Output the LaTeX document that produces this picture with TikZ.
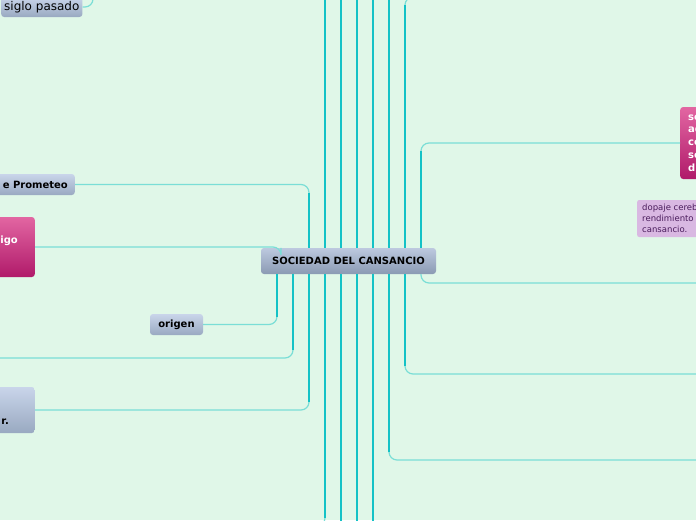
\documentclass[tikz,border=0pt]{standalone}
\usepackage{fontspec}
\setmainfont{DejaVu Sans}
\definecolor{cFondo}{HTML}{E0F7E8}
\definecolor{cTronco}{HTML}{14C2C6}
\definecolor{cRama}{HTML}{7ADED6}
\definecolor{cAzulA}{HTML}{C9D5EA}
\definecolor{cAzulB}{HTML}{99A9C1}
\definecolor{cCentroA}{HTML}{BDC9DF}
\definecolor{cCentroB}{HTML}{8A9AB3}
\definecolor{cRosaA}{HTML}{E266A2}
\definecolor{cRosaB}{HTML}{B01A6A}
\definecolor{cLila}{HTML}{D9B8E2}
\definecolor{cLilaTexto}{HTML}{4A1C5C}

\begin{document}
\begin{tikzpicture}[x=1pt, y=-1pt,
        tema/.style={rounded corners=3pt, top color=cAzulA, bottom color=cAzulB, inner ysep=0pt,
            font=\fontsize{10}{12}\selectfont\bfseries},
        central/.style={rounded corners=3pt, top color=cCentroA, bottom color=cCentroB, inner sep=0pt,
            minimum width=175pt, minimum height=26pt, font=\fontsize{10}{12}\selectfont\bfseries},
        rosa/.style={rounded corners=3pt, top color=cRosaA, bottom color=cRosaB, text=white, inner ysep=0pt,
            font=\fontsize{10}{12.8}\selectfont\bfseries},
        nota/.style={rounded corners=2pt, fill=cLila, text=cLilaTexto, inner ysep=0pt,
            font=\fontsize{8.5}{11}\selectfont},
        rama/.style={draw=cRama, line width=1.2pt, rounded corners=8pt},
        tronco/.style={draw=cTronco, line width=2pt}
    ]
        % Lienzo
        \useasboundingbox (0,0) rectangle (696,520);
        \clip (0,0) rectangle (696,520);
        \fill[cFondo] (0,0) rectangle (696,520);

        % Nodo central y temas
        \node[central] (cc) at (348.5,261) {SOCIEDAD DEL CANSANCIO};
        \node[tema, anchor=west, minimum height=20pt, inner xsep=3pt,
            font=\fontsize{12}{14}\selectfont] (sp) at (1,7) {siglo pasado};
        \node[tema, anchor=east, minimum height=21pt, inner xsep=7pt] (pr) at (75,184.5) {e Prometeo};
        \node[rosa, anchor=east, minimum height=60pt, inner xsep=17pt,
            text height=7.5pt, text depth=2pt] (igo) at (35,247) {\raisebox{6pt}{igo}};
        \node[tema, minimum width=53pt, minimum height=21pt] (og) at (176.5,324.5) {origen};
        \node[tema, anchor=east, minimum height=46pt, inner xsep=26pt,
            text height=7.5pt, text depth=2pt] (rr) at (35,410) {\raisebox{-12pt}{r.}};
        \node[rosa, anchor=west, align=left, minimum height=72pt, inner xsep=8pt] (sed) at (680,143)
            {se\\ad\\co\\se\\d};
        \node[nota, anchor=west, align=left, minimum height=37pt, inner xsep=5pt] (dop) at (637,218.5)
            {dopaje cereb\\rendimiento\\cansancio.};

        % Posiciones de las ramas y extremos fuera del lienzo
        \foreach \x in {93,277,281,293,309,325,341,357,373,389,405,421}
            \coordinate (x\x) at (\x,0);
        \coordinate (arriba) at (0,-20);
        \coordinate (abajo) at (0,540);
        \coordinate (izq) at (-20,358);
        \coordinate (izqAbajo) at (200,526);
        \coordinate (derArriba) at (720,-3);
        \coordinate (der283) at (720,283);
        \coordinate (der374) at (720,374);
        \coordinate (der460) at (720,460);

        % Ramas finas
        \draw[rama] (sp.east) -| (x93 |- arriba);
        \draw[rama] (x281 |- cc.north) |- (igo.east);
        \draw[rama] (x309 |- cc.north) |- (pr.east);
        \draw[rama] (x405 |- cc.north) |- (derArriba);
        \draw[rama] (x421 |- cc.north) |- (sed.west);
        \draw[rama] (x277 |- cc.south) |- (og.east);
        \draw[rama] (x293 |- cc.south) |- (izq);
        \draw[rama] (x309 |- cc.south) |- (rr.east);
        \draw[rama] (x325 |- cc.south) |- (izqAbajo);
        \draw[rama] (x389 |- cc.south) |- (der460);
        \draw[rama] (x405 |- cc.south) |- (der374);
        \draw[rama] (x421 |- cc.south) |- (der283);

        % Troncos gruesos
        \draw[tronco, shorten >=8pt] (x309 |- cc.north) -- (x309 |- pr.east);
        \draw[tronco, shorten >=8pt] (x405 |- cc.north) -- (x405 |- derArriba);
        \draw[tronco, shorten >=8pt] (x421 |- cc.north) -- (x421 |- sed.west);
        \draw[tronco, shorten >=8pt] (x277 |- cc.south) -- (x277 |- og.east);
        \draw[tronco, shorten >=8pt] (x293 |- cc.south) -- (x293 |- izq);
        \draw[tronco, shorten >=8pt] (x309 |- cc.south) -- (x309 |- rr.east);
        \draw[tronco, shorten >=8pt] (x325 |- cc.south) -- (x325 |- izqAbajo);
        \draw[tronco, shorten >=8pt] (x389 |- cc.south) -- (x389 |- der460);
        \draw[tronco, shorten >=8pt] (x405 |- cc.south) -- (x405 |- der374);
        \foreach \x in {325,341,357,373,389}
            \draw[tronco] (x\x |- cc.north) -- (x\x |- arriba);
        \foreach \x in {341,357,373}
            \draw[tronco] (x\x |- cc.south) -- (x\x |- abajo);
\end{tikzpicture}
\end{document}
